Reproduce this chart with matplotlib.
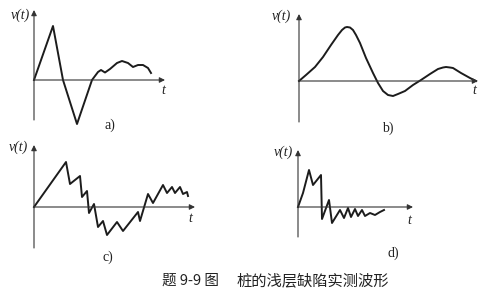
import matplotlib
matplotlib.use("Agg")
import matplotlib.pyplot as plt

# waveforms (t, v in arbitrary units, origin at 0,0)
t_a = [0, 19, 29, 43, 58, 64, 67, 71, 76, 83, 88, 94, 99, 104, 109, 114, 117]
v_a = [0, 54, 0, -44, 0, 8, 10, 7.5, 11, 17, 19, 17, 13, 15, 15, 12, 7]

t_b = [0, 7, 16, 24, 32, 39, 43, 46, 48, 51, 54, 57, 61, 67, 74, 79, 84, 89, 94, 99,
       106, 114, 122, 131, 139, 144, 147, 151, 154, 162, 171, 177]
v_b = [0, 6, 14, 24, 36, 46, 51, 53.5, 54, 53.5, 51, 46, 38, 23, 8, -2, -10, -14, -15, -13,
       -10, -4, 1, 7, 12, 13.5, 14, 13.5, 13, 8, 3, 0]

t_c = [0, 32, 36, 46, 48, 53, 55, 60, 64, 69, 73, 83, 89, 104, 106, 114, 119,
       129, 133, 138, 141, 146, 149, 153, 154]
v_c = [0, 45, 23, 31, 10, 16, -6, 3, -20, -14, -28, -15, -24, -5, -14, 13, 4,
       22, 14, 20, 14, 20, 13, 15, 11]

t_d = [0, 5, 11, 15, 23, 24, 31, 34, 42, 46, 50, 53, 57, 60, 64, 67, 72, 77, 82, 86]
v_d = [0, 14, 37, 22, 32, -12, 7, -16, -3, -11, -1, -10, -2, -9, -3, -9, -6, -8, -5, -3]

labels = ["a)", "b)", "c)", "d)"]
caption_left = "题 9-9 图"
caption_right = "桩的浅层缺陷实测波形"

W, H = 492, 294
fig = plt.figure(figsize=(W / 100, H / 100), dpi=100)
fig.patch.set_facecolor("white")

# panel layout in pixels: box (left, top, w, h), origin, y-axis span, x-axis end,
# label spots
panels = [
    dict(box=(0, 0, 246, 140), o=(34, 80), ytop=10, ybot=120, xend=165,
         vt=(20, 15), tl=(163, 90), lab=(110, 125)),
    dict(box=(246, 0, 246, 140), o=(299, 81), ytop=14, ybot=122, xend=478,
         vt=(281, 16), tl=(474, 91), lab=(388, 128)),
    dict(box=(0, 140, 246, 130), o=(34, 207), ytop=145, ybot=248, xend=195,
         vt=(18, 147), tl=(190, 218), lab=(108, 257)),
    dict(box=(246, 140, 246, 130), o=(298, 207), ytop=150, ybot=237, xend=413,
         vt=(283, 152), tl=(409, 220), lab=(393, 253)),
]
curves = [(t_a, v_a), (t_b, v_b), (t_c, v_c), (t_d, v_d)]

ink = "#1c1c1c"
for p, (tt, vv), lab in zip(panels, curves, labels):
    l, top, w, h = p["box"]
    ox, oy = p["o"]
    ax = fig.add_axes([l / W, 1 - (top + h) / H, w / W, h / H])
    ax.set_xlim(l - ox, l + w - ox)
    ax.set_ylim(oy - (top + h), oy - top)
    ax.axis("off")
    # axes with arrows
    ax.annotate("", xy=(0, oy - p["ytop"]), xytext=(0, oy - p["ybot"]),
                arrowprops=dict(arrowstyle="-|>", lw=0.8, color="#333333",
                                mutation_scale=8, shrinkA=0, shrinkB=0))
    ax.annotate("", xy=(p["xend"] - ox, 0), xytext=(0, 0),
                arrowprops=dict(arrowstyle="-|>", lw=0.8, color="#333333",
                                mutation_scale=8, shrinkA=0, shrinkB=0))
    ax.plot(tt, vv, color=ink, lw=1.4, solid_joinstyle="round")
    ax.text(p["vt"][0] - ox, oy - p["vt"][1], "v(t)", ha="center", va="center",
            family="Liberation Serif", style="italic", fontsize=10, color="#222")
    ax.text(p["tl"][0] - ox, oy - p["tl"][1], "t", ha="center", va="center",
            family="Liberation Serif", style="italic", fontsize=10, color="#222")
    ax.text(p["lab"][0] - ox, oy - p["lab"][1], lab, ha="center", va="center",
            family="Liberation Serif", fontsize=10, color="#222")

fig.text(191 / W, 1 - 281 / H, caption_left, ha="center", va="center",
         family=["Noto Sans CJK SC", "DejaVu Sans"], fontsize=10.5, color="#222")
fig.text(237 / W, 1 - 281 / H, caption_right, ha="left", va="center",
         family=["Noto Sans CJK SC", "DejaVu Sans"], fontsize=11, color="#222")

fig.savefig("out.png", dpi=100, facecolor="white")
